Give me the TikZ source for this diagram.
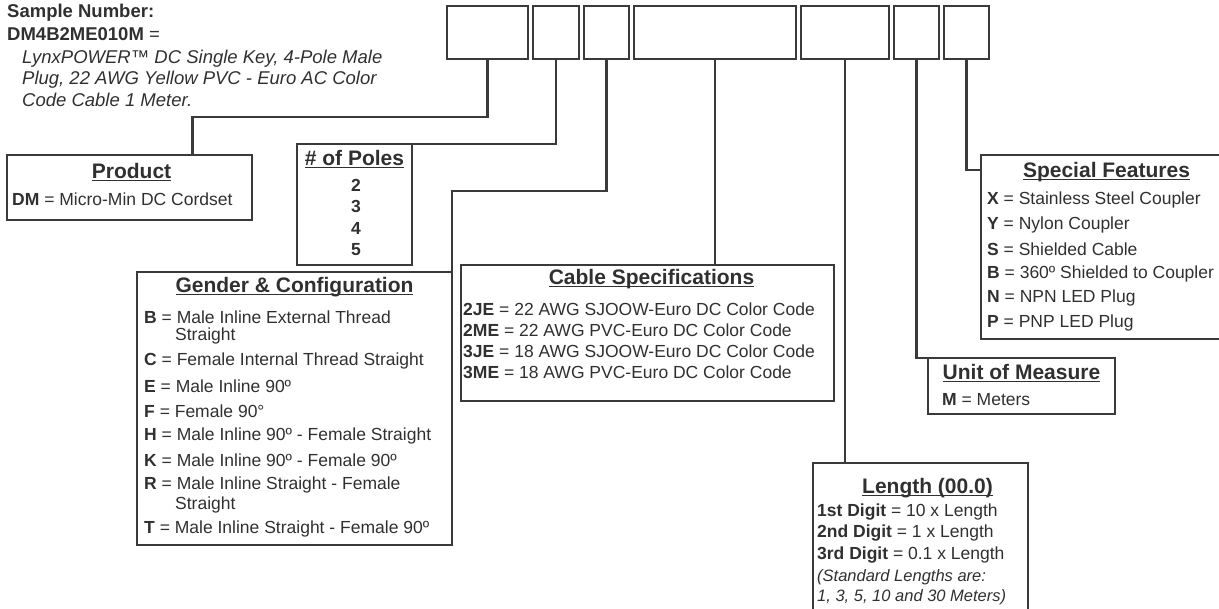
\documentclass[tikz,border=0pt]{standalone}
\usepackage{fontspec}
\setmainfont{Liberation Sans}
\usetikzlibrary{positioning, calc}
\definecolor{inkgray}{RGB}{48,48,48}
\definecolor{linegray}{RGB}{58,58,58}
\newcommand\ulbox[1]{\setbox0=\hbox{#1}\rlap{\rule[-2.9pt]{\wd0}{1.5pt}}\box0}
\tikzset{
  codebox/.style={rectangle, draw=linegray, line width=2.4pt, minimum height=53pt,
    inner sep=0pt, outer sep=0pt},
  infobox/.style={rectangle, draw=linegray, line width=2.2pt, anchor=north west,
    inner sep=0pt, outer sep=0pt},
  wire/.style={draw=linegray, line width=2.2pt},
  boxtitle/.style={font=\fontsize{21}{23}\selectfont\bfseries, inner sep=0pt, text=inkgray},
  entry/.style={anchor=west, font=\fontsize{17.5}{19}\selectfont, inner sep=0pt, text=inkgray},
  note/.style={anchor=west, font=\fontsize{18.5}{20}\selectfont\itshape, inner sep=0pt, text=inkgray},
}

\begin{document}
\begin{tikzpicture}[x=1pt, y=-1pt]
  \clip (0,0) rectangle (1219,609);

  % sample number
  \node[entry, font=\fontsize{18.5}{20}\selectfont\bfseries] (snum) at (7,13) {Sample Number:};
  \node[entry, font=\fontsize{18.5}{20}\selectfont] (scode) at (7,34) {\textbf{DM4B2ME010M} =};
  \node[note] (sdesc1) at (22,59) {LynxPOWER™ DC Single Key, 4-Pole Male};
  \node[note] (sdesc2) at (22,80) {Plug, 22 AWG Yellow PVC - Euro AC Color};
  \node[note] (sdesc3) at (22,100) {Code Cable 1 Meter.};

  % part number boxes
  \node[codebox, minimum width=81pt] (c1) at (487.5,32.5) {};
  \node[codebox, minimum width=46pt, right=5pt of c1] (c2) {};
  \node[codebox, minimum width=45pt, right=5pt of c2] (c3) {};
  \node[codebox, minimum width=162pt, right=5pt of c3] (c4) {};
  \node[codebox, minimum width=88pt, right=5pt of c4] (c5) {};
  \node[codebox, minimum width=45pt, right=5pt of c5] (c6) {};
  \node[codebox, minimum width=45pt, right=5pt of c6] (c7) {};

  % legend boxes
  \node[infobox, minimum width=245pt, minimum height=65pt] (product) at (7,155) {};
  \node[infobox, minimum width=115pt, minimum height=121pt] (poles) at (297,144) {};
  \node[infobox, minimum width=315pt, minimum height=273pt] (gender) at (137,272) {};
  \node[infobox, minimum width=373pt, minimum height=136pt] (cable) at (461,265) {};
  \node[infobox, minimum width=251pt, minimum height=184pt] (special) at (981,155) {};
  \node[infobox, minimum width=187pt, minimum height=56pt] (unit) at (928,358) {};
  \node[infobox, minimum width=215pt, minimum height=180pt] (length) at (813,463) {};

  % titles
  \node[boxtitle] (tproduct) at ($(product.north)+(2,17)$) {\ulbox{Product}};
  \node[boxtitle] (tpoles) at ($(poles.north)+(0,15)$) {\ulbox{\# of Poles}};
  \node[boxtitle] (tgender) at ($(gender.north)+(0,15)$) {\ulbox{Gender \& Configuration}};
  \node[boxtitle] (tcable) at ($(cable.north)+(4,14)$) {\ulbox{Cable Specifications}};
  \node[boxtitle] (tspecial) at ($(special.north)+(0,17)$) {\ulbox{Special Features}};
  \node[boxtitle] (tunit) at ($(unit.north)+(0,15)$) {\ulbox{Unit of Measure}};
  \node[boxtitle] (tlength) at ($(length.north)+(7,25)$) {\ulbox{Length (00.0)}};

  % entries
  \node[entry] (eproduct) at (12,199) {\textbf{DM} = Micro-Min DC Cordset};
  \foreach \n [count=\i] in {2,3,4,5}
    \node[entry, anchor=center, font=\fontsize{17.5}{19}\selectfont\bfseries] (p\i)
      at (356,163.5+21.5*\i) {\n};
  \foreach \y/\xx/\txt [count=\i] in {
      317/144/{\textbf{B} = Male Inline External Thread},
      336/175/{Straight},
      361/144/{\textbf{C} = Female Internal Thread Straight},
      386/144/{\textbf{E} = Male Inline 90º},
      411/144/{\textbf{F} = Female 90°},
      436/144/{\textbf{H} = Male Inline 90º - Female Straight},
      460/144/{\textbf{K} = Male Inline 90º - Female 90º},
      485/144/{\textbf{R} = Male Inline Straight - Female},
      505/175/{Straight},
      529/144/{\textbf{T} = Male Inline Straight - Female 90º}}
    \node[entry] (g\i) at (\xx,\y) {\txt};
  \foreach \txt [count=\i] in {
      {\textbf{2JE} = 22 AWG SJOOW-Euro DC Color Code},
      {\textbf{2ME} = 22 AWG PVC-Euro DC Color Code},
      {\textbf{3JE} = 18 AWG SJOOW-Euro DC Color Code},
      {\textbf{3ME} = 18 AWG PVC-Euro DC Color Code}}
    \node[entry] (k\i) at (463,288+21*\i) {\txt};
  \foreach \txt [count=\i] in {
      {\textbf{X} = Stainless Steel Coupler},
      {\textbf{Y} = Nylon Coupler},
      {\textbf{S} = Shielded Cable},
      {\textbf{B} = 360º Shielded to Coupler},
      {\textbf{N} = NPN LED Plug},
      {\textbf{P} = PNP LED Plug}}
    \node[entry] (s\i) at (987,175.4+24.6*\i) {\txt};
  \node[entry] (eunit) at (942,400) {\textbf{M} = Meters};
  \node[entry] (l1) at (817,512) {\textbf{1st Digit} = 10 x Length};
  \node[entry] (l2) at (817,533) {\textbf{2nd Digit} = 1 x Length};
  \node[entry] (l3) at (817,555) {\textbf{3rd Digit} = 0.1 x Length};
  \node[entry, font=\fontsize{16.5}{18}\selectfont\itshape] (l4) at (817,577) {(Standard Lengths are:};
  \node[entry, font=\fontsize{16.5}{18}\selectfont\itshape] (l5) at (817,597) {1, 3, 5, 10 and 30 Meters)};

  % connectors
  \draw[wire] (c1.south) |- ($(product.north)+(63,-38)$) -- ($(product.north)+(63,0)$);
  \draw[wire] (c2.south) |- (poles.north east);
  \draw[wire] (c3.south) |- ($(gender.north east)+(0,-81)$) -- (gender.north east);
  \draw[wire] (c4.south) -- (c4.south |- cable.north);
  \draw[wire] (c5.south) -- (c5.south |- length.north);
  \draw[wire] (c6.south) |- (unit.north west);
  \draw[wire] (c7.south) |- ($(special.north west)+(0,15)$);
\end{tikzpicture}
\end{document}
